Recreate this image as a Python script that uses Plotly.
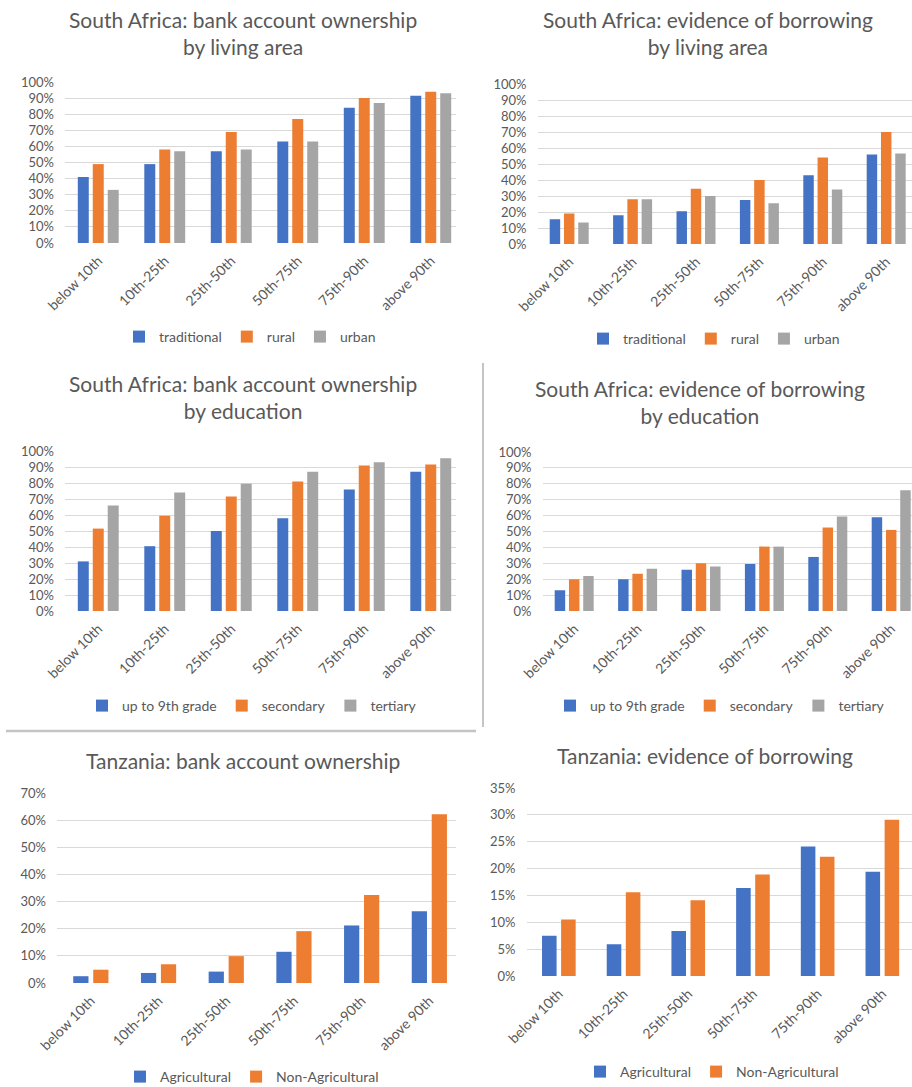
import plotly.graph_objects as go

# Income percentile groups shared by every panel
groups = ["below 10th", "10th-25th", "25th-50th", "50th-75th", "75th-90th", "above 90th"]

# South Africa: bank account ownership by living area (%)
sa_acc_traditional = [41, 49, 57, 63, 84, 91.5]
sa_acc_rural = [49, 58, 69, 77, 90, 94]
sa_acc_urban = [33, 57, 58, 63, 87, 93]

# South Africa: evidence of borrowing by living area (%)
sa_bor_traditional = [15.5, 18, 20.5, 27.5, 43, 56]
sa_bor_rural = [19, 28, 34.5, 40, 54, 70]
sa_bor_urban = [13.5, 28, 30, 25.5, 34, 56.5]

# South Africa: bank account ownership by education (%)
sa_acc_primary = [31, 40.5, 50, 58, 76, 87]
sa_acc_secondary = [51.5, 59.5, 71.5, 81, 91, 91.5]
sa_acc_tertiary = [66, 74, 79.5, 87, 93, 95.5]

# South Africa: evidence of borrowing by education (%)
sa_bor_primary = [13, 20, 26, 29.5, 34, 59]
sa_bor_secondary = [20, 23.5, 30, 40.5, 52.5, 51]
sa_bor_tertiary = [22, 26.5, 28, 40.5, 59.5, 76]

# Tanzania: bank account ownership by sector (%)
tz_acc_agri = [2.5, 3.7, 4.2, 11.5, 21.2, 26.4]
tz_acc_nonagri = [4.9, 6.9, 9.9, 19.1, 32.4, 62.2]

# Tanzania: evidence of borrowing by sector (%)
tz_bor_agri = [7.5, 5.9, 8.4, 16.4, 24.1, 19.4]
tz_bor_nonagri = [10.5, 15.6, 14.1, 18.9, 22.2, 29.1]

area_names = ["traditional", "rural", "urban"]
edu_names = ["up to 9th grade", "secondary", "tertiary"]
sector_names = ["Agricultural", "Non-Agricultural"]

titles = [
    "South Africa: bank account ownership<br>by living area",
    "South Africa: evidence of borrowing<br>by living area",
    "South Africa: bank account ownership<br>by education",
    "South Africa: evidence of borrowing<br>by education",
    "Tanzania: bank account ownership",
    "Tanzania: evidence of borrowing",
]

W, H = 912, 1087
BLUE, ORANGE, GREY = "#4472C4", "#ED7D31", "#A5A5A5"
TEXT = "#595959"
GRID = "#D9D9D9"
FONT = "Lato, 'Open Sans', sans-serif"

panels = [
    dict(series=[sa_acc_traditional, sa_acc_rural, sa_acc_urban], names=area_names,
         left=65, step=66.5, right=456, y0=243, y1=82, top=100, dtick=10,
         title_xy=(243, 33), legend_xy=(250, 337)),
    dict(series=[sa_bor_traditional, sa_bor_rural, sa_bor_urban], names=area_names,
         left=537.5, step=63.4, right=912, y0=244, y1=84, top=100, dtick=10,
         title_xy=(708, 33), legend_xy=(714, 339)),
    dict(series=[sa_acc_primary, sa_acc_secondary, sa_acc_tertiary], names=edu_names,
         left=65, step=66.5, right=456, y0=611, y1=451, top=100, dtick=10,
         title_xy=(243, 397), legend_xy=(252, 706)),
    dict(series=[sa_bor_primary, sa_bor_secondary, sa_bor_tertiary], names=edu_names,
         left=542.5, step=63.4, right=912, y0=611, y1=452, top=100, dtick=10,
         title_xy=(700, 402), legend_xy=(720, 706)),
    dict(series=[tz_acc_agri, tz_acc_nonagri], names=sector_names,
         left=57, step=67.7, right=456, y0=983, y1=793, top=70, dtick=10,
         title_xy=(243, 760), legend_xy=(252, 1077)),
    dict(series=[tz_bor_agri, tz_bor_nonagri], names=sector_names,
         left=526.5, step=64.7, right=912, y0=976, y1=788, top=35, dtick=5,
         title_xy=(705, 755), legend_xy=(712, 1072)),
]

colors = [BLUE, ORANGE, GREY]

fig = go.Figure()
annotations = []

for k, p in enumerate(panels, start=1):
    n = len(p["series"])
    if n == 3:
        bar_w, pitch = 0.165, 0.225
    else:
        bar_w, pitch = 0.225, 0.295
    sfx = "" if k == 1 else str(k)
    leg = "legend" if k == 1 else f"legend{k}"
    for i, (vals, name) in enumerate(zip(p["series"], p["names"])):
        fig.add_trace(go.Bar(
            x=groups, y=vals, name=name,
            marker=dict(color=colors[i], line=dict(width=0)),
            width=bar_w, offset=(i - (n - 1) / 2) * pitch - bar_w / 2,
            xaxis="x" + sfx, yaxis="y" + sfx, legend=leg,
            hovertemplate="%{x}: %{y}%<extra>" + name + "</extra>",
        ))

    x_hi = -0.5 + (p["right"] - p["left"]) / p["step"]
    fig.layout["xaxis" + sfx] = dict(
        domain=[p["left"] / W, p["right"] / W], range=[-0.5, x_hi],
        anchor="y" + sfx, tickangle=-45, showgrid=False, showline=False,
        zeroline=False, ticks="", tickfont=dict(family=FONT, size=14, color=TEXT),
        ticklabelstandoff=6, automargin=False, fixedrange=True,
    )
    fig.layout["yaxis" + sfx] = dict(
        domain=[1 - p["y0"] / H, 1 - p["y1"] / H], range=[0, p["top"]],
        anchor="x" + sfx, dtick=p["dtick"], ticksuffix="%",
        showgrid=True, gridcolor=GRID, gridwidth=1, zeroline=False,
        showline=False, ticks="", tickfont=dict(family=FONT, size=13, color=TEXT),
        ticklabelstandoff=10, automargin=False, fixedrange=True,
    )
    lx, ly = p["legend_xy"]
    fig.layout[leg] = dict(
        x=lx / W, y=1 - ly / H, xanchor="center", yanchor="middle",
        orientation="h", itemwidth=30, bgcolor="rgba(0,0,0,0)",
        font=dict(family=FONT, size=14, color=TEXT), traceorder="normal",
    )
    tx, ty = p["title_xy"]
    annotations.append(dict(
        text=titles[k - 1], x=tx / W, y=1 - ty / H, xref="paper", yref="paper",
        xanchor="center", yanchor="middle", showarrow=False,
        font=dict(family=FONT, size=21, color=TEXT),
    ))

# Frame lines separating the middle row from its neighbours
shapes = [
    dict(type="line", xref="paper", yref="paper",
         x0=483 / W, x1=483 / W, y0=1 - 363 / H, y1=1 - 727 / H,
         line=dict(color="#C4C4C4", width=2)),
    dict(type="line", xref="paper", yref="paper",
         x0=6 / W, x1=476 / W, y0=1 - 731 / H, y1=1 - 731 / H,
         line=dict(color="#C4C4C4", width=2.5)),
]

fig.update_layout(
    width=W, height=H, margin=dict(l=0, r=0, t=0, b=0, autoexpand=False),
    paper_bgcolor="white", plot_bgcolor="white",
    barmode="group", showlegend=True,
    annotations=annotations, shapes=shapes,
    font=dict(family=FONT, color=TEXT),
)

fig.write_html("out.html")
